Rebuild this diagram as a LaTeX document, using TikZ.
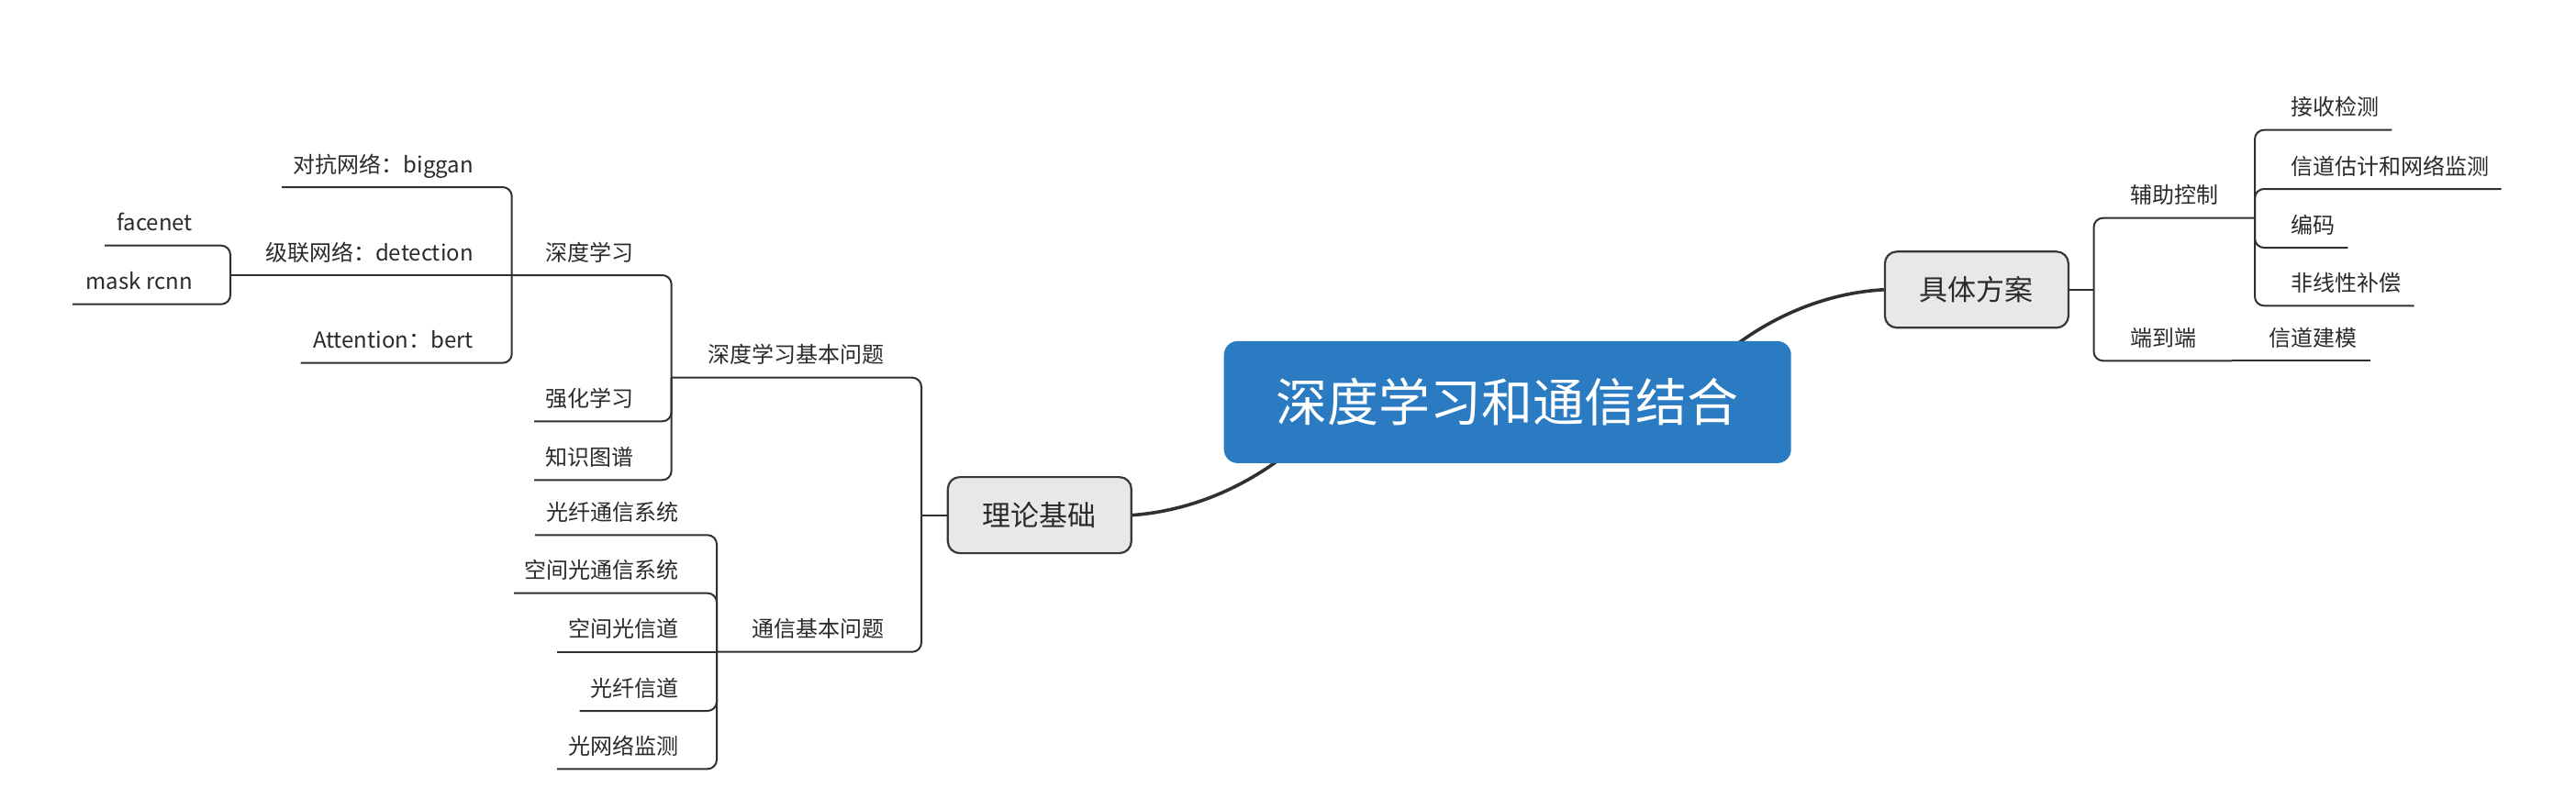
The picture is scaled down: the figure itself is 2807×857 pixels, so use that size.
\documentclass[tikz,border=0pt]{standalone}
\usepackage{fontspec}
\setmainfont{Noto Sans CJK SC}
\definecolor{linecol}{HTML}{303030}
\definecolor{textcol}{HTML}{2A2A2A}
\definecolor{boxfill}{HTML}{E8E8E8}
\definecolor{boxborder}{HTML}{383838}
\definecolor{rootblue}{HTML}{2B7BC3}
\begin{document}
\begin{tikzpicture}[x=1pt,y=-1pt,
  branch/.style={draw=linecol, line width=2pt, rounded corners=10pt},
  mainconn/.style={draw=linecol, line width=3.6pt},
  lbl/.style={font=\fontsize{24}{28}\selectfont, text=textcol, inner sep=0pt},
  topic/.style={draw=boxborder, line width=2.2pt, fill=boxfill, rounded corners=13pt,
     minimum width=200pt, minimum height=83pt, inner sep=0pt,
     font=\fontsize{31}{36}\selectfont, text=textcol},
  rootbox/.style={fill=rootblue, rounded corners=15pt, minimum width=618pt,
     minimum height=133pt, inner sep=0pt, font=\fontsize{56}{64}\selectfont, text=white}]
\useasboundingbox (0,0) rectangle (2807,857);

% main topics
\node[topic] (lilun) at (1132.8,561.6) {理论基础};
\node[topic] (fangan) at (2153.9,315.8) {具体方案};

% main connectors (behind root)
\draw[mainconn] (lilun.east) .. controls (1310,556) and (1380,520) .. (1430,470);
\draw[mainconn] (fangan.west) .. controls (1977,320) and (1907,356) .. (1857,406);
\node[rootbox] (root) at (1642.7,438.4) {深度学习和通信结合};

% ---------- left side ----------
\coordinate (J1) at (1004,561.6);
\coordinate (J2) at (731.7,411.7);
\coordinate (J3) at (781,710.7);
\coordinate (J4) at (557.7,300);
\coordinate (J5) at (251,300);
\draw[branch] (lilun.west) -- (J1);
\draw[branch] (J1) |- (J2);
\draw[branch] (J1) |- (J3);
\node[lbl, anchor=base east] (sdjb) at (964,395.7) {深度学习基本问题};
\node[lbl, anchor=base east] (txjb) at (964,694.7) {通信基本问题};

% deep learning basic problems
\coordinate (e1) at (582,459.3);
\coordinate (e2) at (582,523.3);
\draw[branch] (J2) |- (J4);
\draw[branch] (J2) |- (e1);
\draw[branch] (J2) |- (e2);
\node[lbl, anchor=base east] (sdxx) at (691,284) {深度学习};
\node[lbl, anchor=base east] (qhxx) at (691,443.3) {强化学习};
\node[lbl, anchor=base east] (zstp) at (691,507.3) {知识图谱};

% deep learning children
\coordinate (d1) at (307,204);
\coordinate (d3) at (327.6,395.7);
\draw[branch] (J4) |- (d1);
\draw[branch] (J4) -- (J5);
\draw[branch] (J4) |- (d3);
\node[lbl, anchor=base east] (dk) at (516,188) {对抗网络：biggan};
\node[lbl, anchor=base east] (jl) at (516,284) {级联网络：detection};
\node[lbl, anchor=base east] (att) at (516,379.7) {Attention：bert};

% cascade children
\coordinate (c1) at (114,267.7);
\coordinate (c2) at (79,331.7);
\draw[branch] (J5) |- (c1);
\draw[branch] (J5) |- (c2);
\node[lbl, anchor=base east] (fn) at (210,251.7) {facenet};
\node[lbl, anchor=base east] (mr) at (210,315.7) {mask rcnn};

% communication basic problems
\coordinate (t1) at (583,583.3);
\coordinate (t2) at (560,646.7);
\coordinate (t3) at (607,710.7);
\coordinate (t4) at (631.6,775);
\coordinate (t5) at (607,838.3);
\draw[branch] (J3) |- (t1);
\draw[branch] (J3) |- (t2);
\draw[branch] (J3) -- (t3);
\draw[branch] (J3) |- (t4);
\draw[branch] (J3) |- (t5);
\node[lbl, anchor=base east] (gxtx) at (740,567.3) {光纤通信系统};
\node[lbl, anchor=base east] (kjgtx) at (740,630.7) {空间光通信系统};
\node[lbl, anchor=base east] (kjgxd) at (740,694.7) {空间光信道};
\node[lbl, anchor=base east] (gxxd) at (740,759) {光纤信道};
\node[lbl, anchor=base east] (gwl) at (740,822.3) {光网络监测};

% ---------- right side ----------
\coordinate (J6) at (2281.5,315.8);
\coordinate (J7) at (2457,237.7);
\coordinate (J8) at (2432,393.3);
\coordinate (r5) at (2582.6,393.3);
\draw[branch] (fangan.east) -- (J6);
\draw[branch] (J6) |- (J7);
\draw[branch] (J6) |- (J8);
\draw[branch] (J8) -- (r5);
\node[lbl, anchor=base west] (fzkz) at (2321.7,221.7) {辅助控制};
\node[lbl, anchor=base west] (ddd) at (2321.7,377.3) {端到端};
\node[lbl, anchor=base west] (xdjm) at (2472.5,377.3) {信道建模};

\coordinate (r1) at (2606.3,141.7);
\coordinate (r2) at (2725.7,206);
\coordinate (r3) at (2558.4,270);
\coordinate (r4) at (2630.5,333.3);
\draw[branch] (J7) |- (r1);
\draw[branch] (J7) |- (r2);
\draw[branch] (J7) |- (r3);
\draw[branch] (J7) |- (r4);
\node[lbl, anchor=base west] (jsjc) at (2496.7,125.7) {接收检测};
\node[lbl, anchor=base west] (xdgj) at (2496.7,190) {信道估计和网络监测};
\node[lbl, anchor=base west] (bm) at (2496.7,254) {编码};
\node[lbl, anchor=base west] (fxx) at (2496.7,317.3) {非线性补偿};
\end{tikzpicture}
\end{document}
